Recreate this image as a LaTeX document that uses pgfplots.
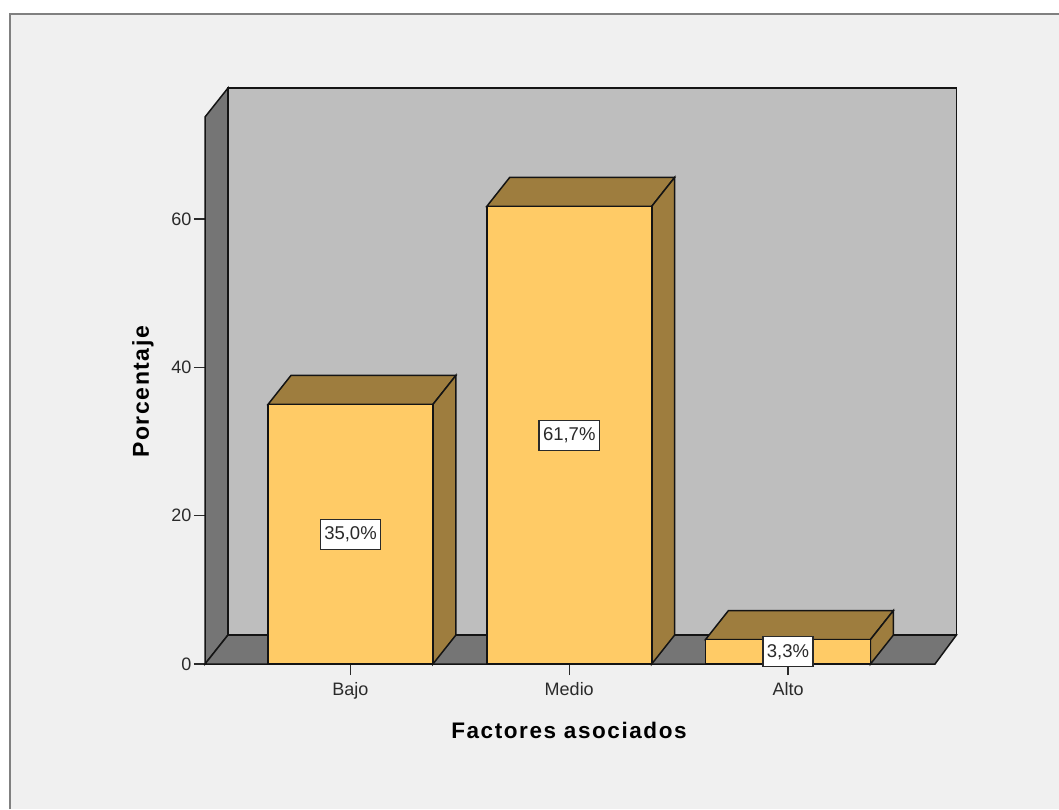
\documentclass[border=0pt]{standalone}
\usepackage{fontspec}
\usepackage{pgfplots}
\usepackage{pgfplotstable}
\pgfplotsset{compat=1.18}
\setmainfont{Liberation Sans}
\newfontfamily\spaced[LetterSpace=7]{Liberation Sans}

\definecolor{panel}{HTML}{F0F0F0}
\definecolor{frameline}{HTML}{808080}
\definecolor{backwall}{HTML}{BEBEBE}
\definecolor{sidewall}{HTML}{757575}
\definecolor{barfront}{HTML}{FFCB66}
\definecolor{barshade}{HTML}{9E7D3E}
\definecolor{edge}{HTML}{141414}
\definecolor{inkgray}{HTML}{2A2A2A}

% Share of respondents per level; x is the category position
\pgfplotstableread{
x v
0 35.0
1 61.7
2 3.3
}\factores

\begin{document}
\begin{tikzpicture}[x=1pt,y=1pt]
\useasboundingbox (0,0) rectangle (1059,809);
\fill[white] (0,0) rectangle (1059,809);
\fill[panel] (10,0) rectangle (1059,795);
\draw[frameline,line width=2pt] (10,0) -- (10,795) -- (1059,795);
\begin{axis}[
  at={(205pt,145pt)}, anchor=south west,
  width=730pt, height=547pt, scale only axis,
  xmin=-0.6651, xmax=2.672, ymin=0, ymax=73.75,
  clip=false,
  axis line style={draw=none},
  xtick={0,1,2}, xticklabels={Bajo,Medio,Alto},
  ytick={0,20,40,60},
  xtick pos=bottom, ytick pos=left,
  tick align=outside, major tick length=11pt,
  tick style={inkgray,line width=1.4pt},
  ticklabel style={font=\fontsize{18}{20}\selectfont,text=inkgray,
                   /pgf/number format/assume math mode=true},
  xticklabel style={yshift=-4pt},
  yticklabel style={xshift=1pt},
  xlabel={\spaced\bfseries Factores asociados},
  ylabel={\spaced\bfseries Porcentaje},
  label style={font=\fontsize{22.5}{24}\selectfont,text=black},
  x label style={at={(axis description cs:0.4986,-0.1207)},anchor=center},
  y label style={at={(axis description cs:-0.0849,0.4975)},anchor=center,rotate=0,
                 font=\fontsize{23}{24}\selectfont},
  every axis plot/.append style={line width=1.5pt,draw=edge},
]
% Chart box: back wall, left wall and floor
\addplot[fill=backwall] coordinates {(-0.560,3.91) (2.770,3.91) (2.770,77.66) (-0.560,77.66)} -- cycle;
\addplot[fill=sidewall] coordinates {(-0.6651,0) (-0.560,3.91) (-0.560,77.66) (-0.6651,73.75)} -- cycle;
\addplot[fill=sidewall] coordinates {(-0.6651,0) (2.672,0) (2.770,3.91) (-0.560,3.91)} -- cycle;

% Bar depth: top and side faces
\addplot[fill=barshade] coordinates {(-0.377,35.0) (0.377,35.0) (0.482,38.91) (-0.272,38.91)} -- cycle;
\addplot[fill=barshade] coordinates {(0.377,0) (0.482,3.91) (0.482,38.91) (0.377,35.0)} -- cycle;
\addplot[fill=barshade] coordinates {(0.623,61.7) (1.377,61.7) (1.482,65.61) (0.728,65.61)} -- cycle;
\addplot[fill=barshade] coordinates {(1.377,0) (1.482,3.91) (1.482,65.61) (1.377,61.7)} -- cycle;
\addplot[fill=barshade] coordinates {(1.623,3.3) (2.377,3.3) (2.482,7.21) (1.728,7.21)} -- cycle;
\addplot[fill=barshade] coordinates {(2.377,0) (2.482,3.91) (2.482,7.21) (2.377,3.3)} -- cycle;

% Front faces of the bars
\addplot[ybar, bar width=165pt, bar shift=0pt, fill=barfront] table[x=x,y=v] {\factores};

% Percentage labels, centred on each front face
\addplot[draw=none, mark=none,
  point meta=explicit,
  nodes near coords={\pgfmathprintnumber[fixed,fixed zerofill,precision=1,use comma]{\pgfplotspointmeta}\%},
  every node near coord/.style={anchor=center, fill=white, draw=inkgray, line width=1.2pt,
     font=\fontsize{18.5}{20}\selectfont, text=inkgray, inner xsep=4pt, inner ysep=0pt,
     minimum height=30pt,
     /pgf/number format/assume math mode=true},
] table[x=x, y expr=\thisrow{v}/2, meta=v] {\factores};
\end{axis}
\end{tikzpicture}
\end{document}
